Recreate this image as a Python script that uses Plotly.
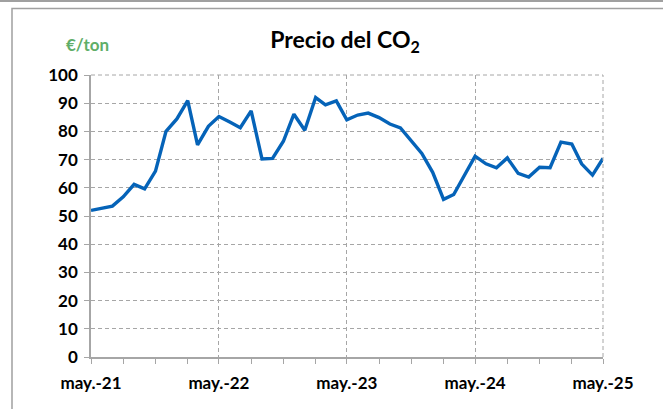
import pandas as pd
import plotly.graph_objects as go

months = pd.date_range("2021-05-01", "2025-05-01", freq="MS").strftime("%Y-%m-%d").tolist()
co2_price = [52.0, 52.8, 53.5, 56.8, 61.2, 59.6, 65.9, 80.0, 84.4, 90.9, 75.2, 81.8,
             85.3, 83.3, 81.3, 87.3, 70.2, 70.4, 76.5, 86.1, 80.4, 92.0, 89.4, 90.8,
             84.1, 85.8, 86.5, 84.9, 82.6, 81.2, 76.5, 72.2, 65.5, 55.9, 57.6, 64.7,
             71.2, 68.5, 67.1, 70.6, 65.1, 63.8, 67.3, 67.1, 76.2, 75.5, 68.5, 64.5, 70.4]
year_ticks = ["2021-05-01", "2022-05-01", "2023-05-01", "2024-05-01", "2025-05-01"]
year_labels = ["may.-21", "may.-22", "may.-23", "may.-24", "may.-25"]
quarter_ticks = months[::3]
y_ticks = list(range(0, 101, 10))

W, H = 663, 409
L, R, T, B = 91, 603, 75, 357
pw, ph = R - L, B - T


def px(x):
    return (x - L) / pw


def py(y):
    return (B - y) / ph


fig = go.Figure()
fig.add_trace(go.Scatter(x=months, y=co2_price, mode="lines",
                         line=dict(color="#0563b8", width=3.4), hoverinfo="x+y"))

font_family = "Lato, 'Open Sans', sans-serif"
grid_col = "#a6a6a6"
dash = "4px,3px"
fig.update_layout(
    width=W, height=H,
    margin=dict(l=L, r=W - R, t=T, b=H - B, pad=0),
    paper_bgcolor="white", plot_bgcolor="white",
    showlegend=False,
    font=dict(family=font_family, color="black"),
    title=dict(text="<b>Precio del CO<sub>2</sub></b>", x=px(345), xanchor="center",
               xref="paper", y=1 - 40 / H, yanchor="middle",
               font=dict(size=23, family=font_family, color="black")),
)
fig.update_xaxes(
    type="date", range=["2021-05-01", "2025-05-01"],
    tickvals=year_ticks, ticktext=["<b>%s</b>" % t for t in year_labels],
    tickfont=dict(size=17, family=font_family, color="black"),
    ticks="outside", ticklen=5, tickcolor=grid_col,
    showgrid=True, gridcolor=grid_col, griddash=dash, gridwidth=1,
    showline=True, linecolor=grid_col, linewidth=1.5,
    minor=dict(tickvals=quarter_ticks, ticks="outside", ticklen=5,
               tickcolor=grid_col, showgrid=False),
    zeroline=False, ticklabelstandoff=5,
)
fig.update_yaxes(
    range=[0, 100], tickvals=y_ticks, ticktext=["<b>%d</b>" % v for v in y_ticks],
    tickfont=dict(size=17, family=font_family, color="black"),
    ticks="outside", ticklen=5, tickcolor=grid_col,
    showgrid=True, gridcolor=grid_col, griddash=dash, gridwidth=1,
    showline=True, linecolor=grid_col, linewidth=1.5,
    zeroline=False, ticklabelstandoff=3,
)
# right and top dashed border of plot area
fig.add_shape(type="line", xref="paper", yref="paper", x0=1, x1=1, y0=0, y1=1,
              line=dict(color=grid_col, width=1, dash=dash))
fig.add_shape(type="line", xref="paper", yref="paper", x0=0, x1=1, y0=1, y1=1,
              line=dict(color=grid_col, width=1, dash=dash))
# outer frames
fig.add_shape(type="line", xref="paper", yref="paper", x0=px(0), x1=px(W), y0=py(1), y1=py(1),
              line=dict(color="#a0a0a0", width=2), layer="below")
fig.add_shape(type="rect", xref="paper", yref="paper", x0=px(12), x1=px(W + 10),
              y0=py(H + 10), y1=py(8.5), line=dict(color="#a0a0a0", width=1.5), layer="below")

fig.add_annotation(text="<b>€/ton</b>", xref="paper", yref="paper", x=px(87), y=py(45),
                   xanchor="center", yanchor="middle", showarrow=False,
                   font=dict(size=17, family=font_family, color="#5fae68"))

fig.write_html("out.html", config={"displayModeBar": False},
               post_script="document.body.style.margin='0';")
